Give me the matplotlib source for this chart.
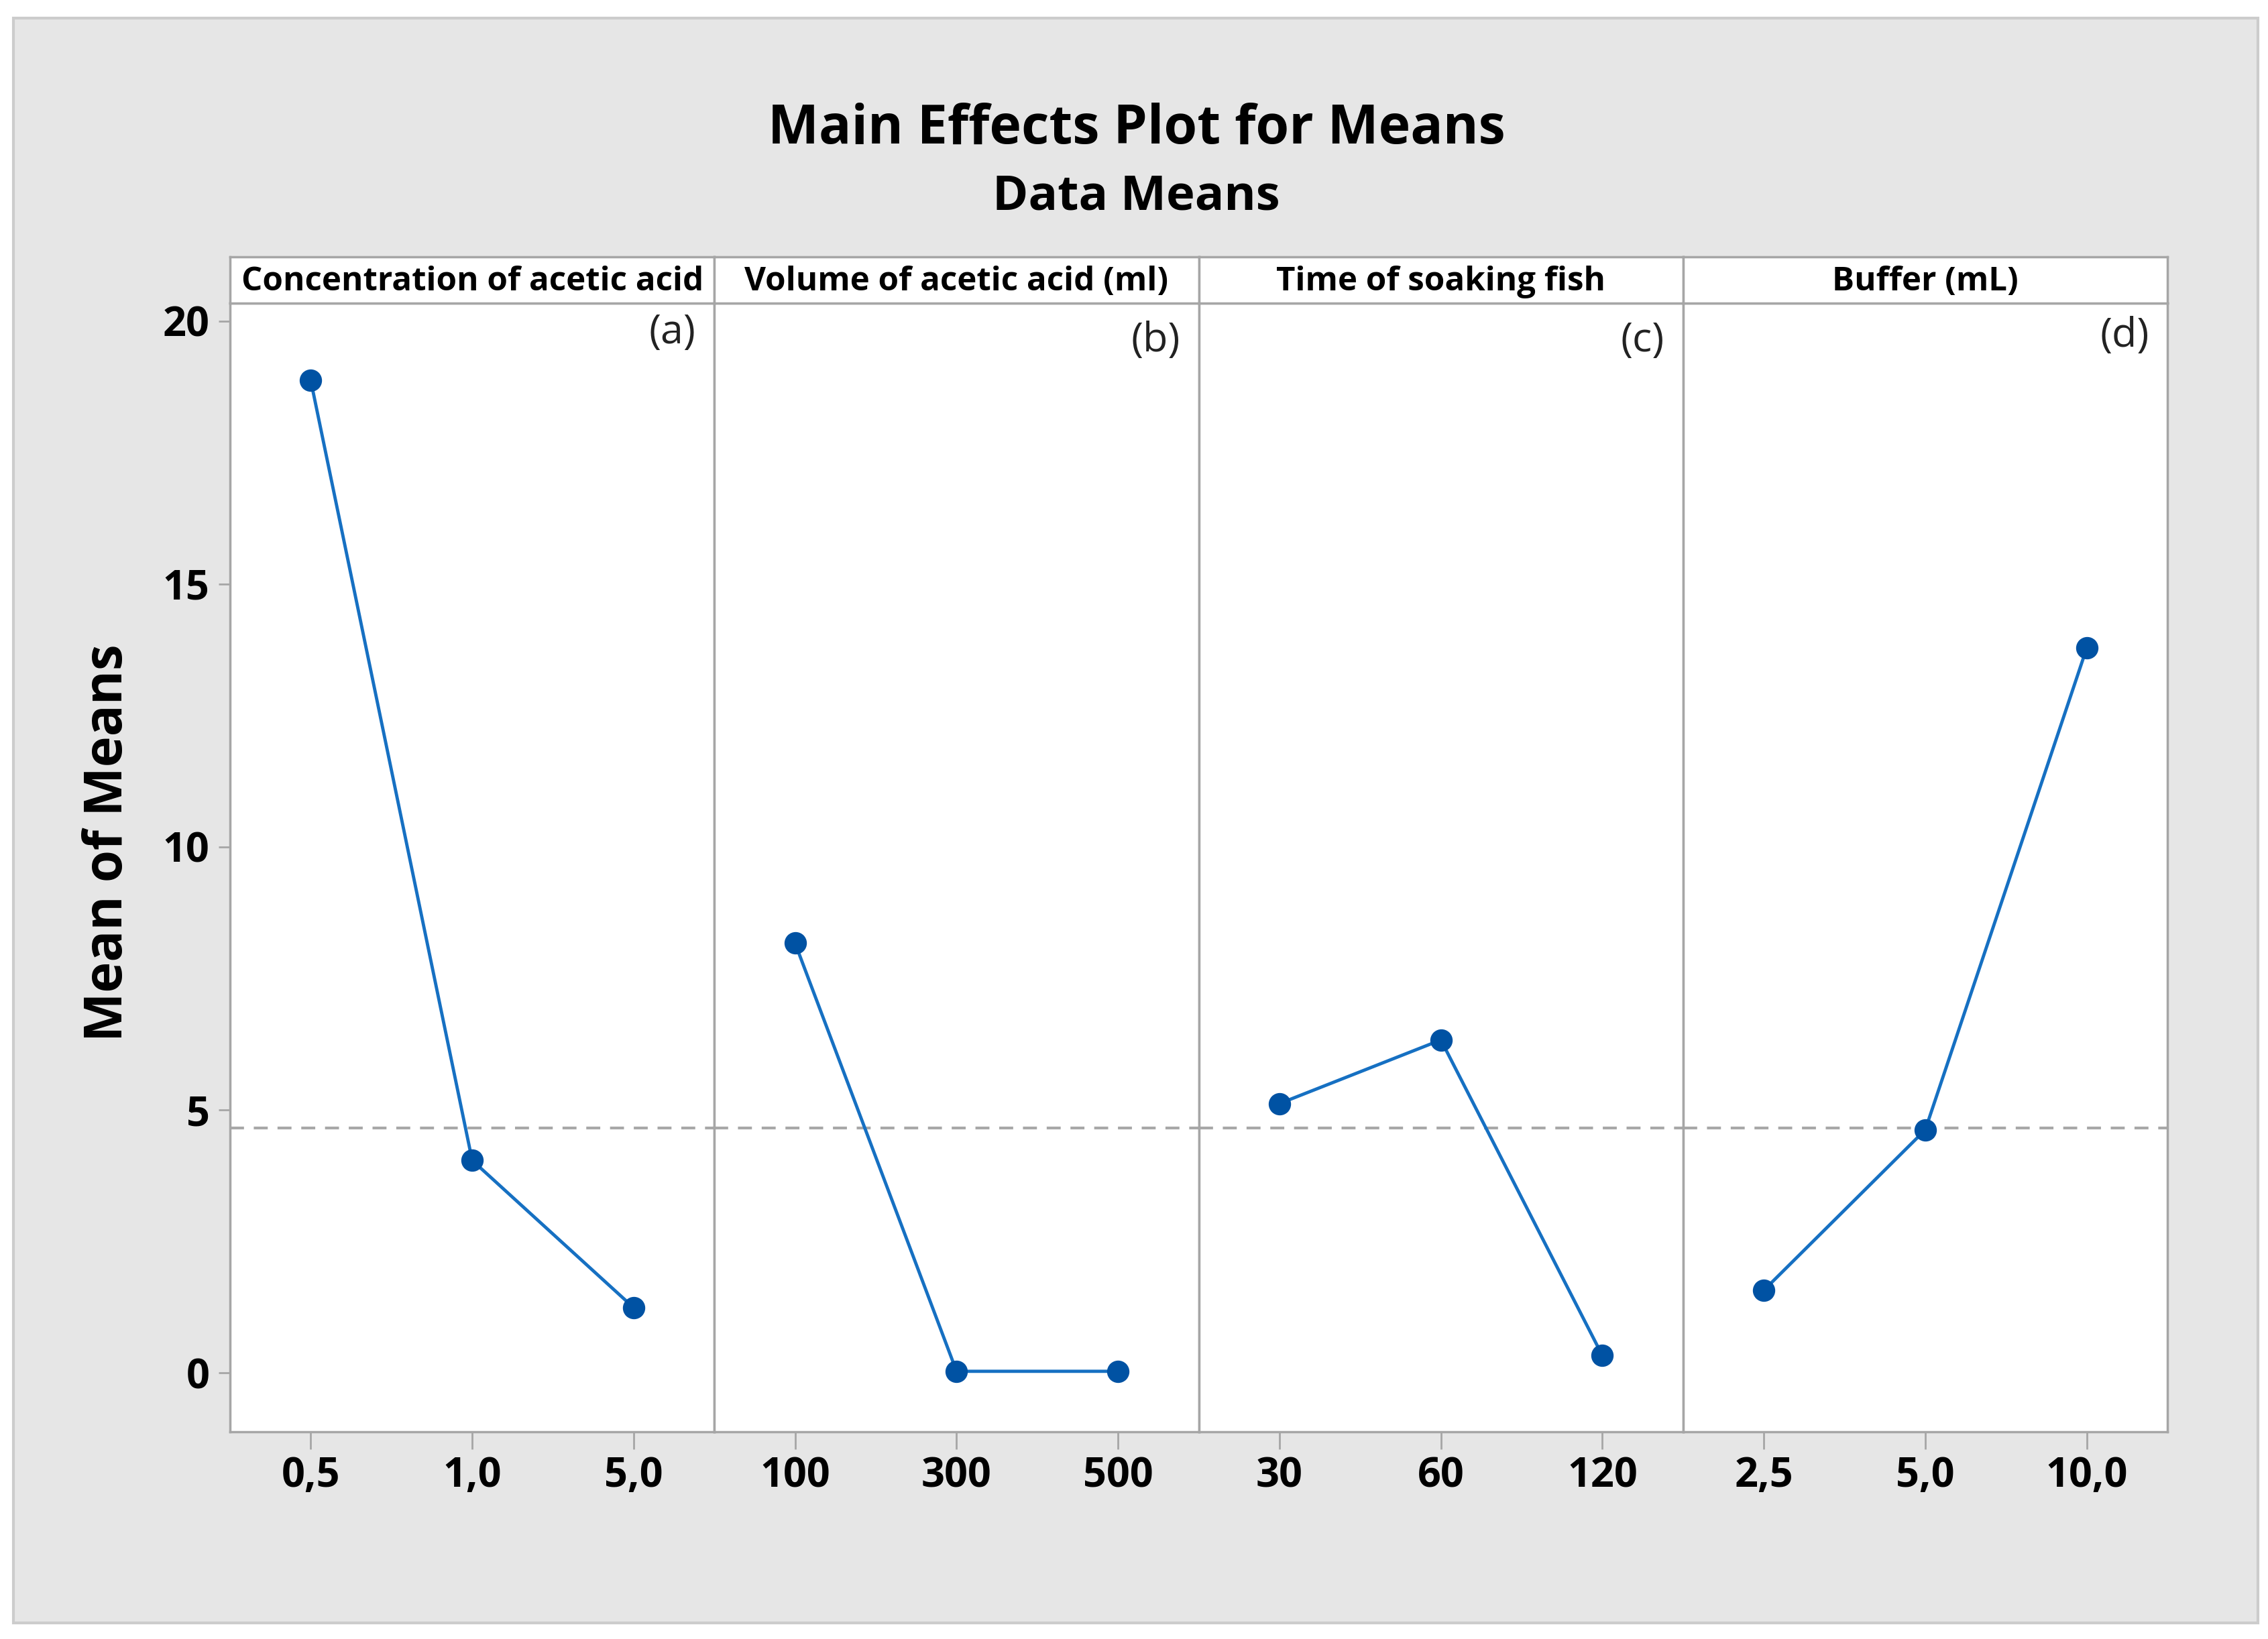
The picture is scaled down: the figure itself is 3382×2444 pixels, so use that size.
import matplotlib.pyplot as plt
from matplotlib.patches import Rectangle

# -------- data --------
FACTORS = ["Concentration of acetic acid", "Volume of acetic acid (ml)",
           "Time of soaking fish", "Buffer (mL)"]
PANEL_TAGS = ["(a)", "(b)", "(c)", "(d)"]
LEVELS_A = ["0,5", "1,0", "5,0"]
LEVELS_B = ["100", "300", "500"]
LEVELS_C = ["30", "60", "120"]
LEVELS_D = ["2,5", "5,0", "10,0"]
MEANS_A = [18.87, 4.04, 1.24]
MEANS_B = [8.17, 0.03, 0.03]
MEANS_C = [5.12, 6.33, 0.33]
MEANS_D = [1.57, 4.62, 13.78]
GRAND_MEAN = 4.65
Y_TICKS = [0, 5, 10, 15, 20]
# ----------------------

LEVELS = [LEVELS_A, LEVELS_B, LEVELS_C, LEVELS_D]
MEANS = [MEANS_A, MEANS_B, MEANS_C, MEANS_D]

plt.rcParams['font.family'] = ['Open Sans', 'DejaVu Sans']

W, H = 3382, 2444
fig = plt.figure(figsize=(W / 100, H / 100), dpi=100)
fig.patch.set_facecolor('white')

# gray background panel
fig.patches.append(Rectangle((20 / W, 1 - 2420 / H), (3367 - 20) / W, (2420 - 27) / H,
                             transform=fig.transFigure, facecolor='#E6E6E6',
                             edgecolor='#CCCCCC', linewidth=3, zorder=-5))

left, right = 343 / W, 3232 / W
bottom, top = 1 - 2135 / H, 1 - 452 / H
strip_h = (452 - 383) / H
pw = (right - left) / 4
frame_col = '#A6A6A6'
mark_col = '#0052A3'
line_col = '#1670C2'
tag_y = [0.974, 0.967, 0.967, 0.971]

for i in range(4):
    ax = fig.add_axes([left + i * pw, bottom, pw, top - bottom])
    ax.set_facecolor('white')
    x = [1, 2, 3]
    ax.axhline(GRAND_MEAN, color='#A8A8A8', lw=3, dashes=(5, 3.5), zorder=1)
    ax.plot(x, MEANS[i], '-', color=line_col, lw=3.5, zorder=2)
    ax.plot(x, MEANS[i], 'o', color=mark_col, markersize=23, zorder=3)
    ax.set_xlim(0.5, 3.5)
    ax.set_ylim(-1.12, 20.34)
    ax.set_xticks(x)
    ax.set_xticklabels(LEVELS[i], fontsize=44, fontweight='bold')
    ax.tick_params(axis='x', length=19, width=2, color=frame_col, pad=7)
    if i == 0:
        ax.set_yticks(Y_TICKS)
        ax.set_yticklabels([str(v) for v in Y_TICKS], fontsize=44, fontweight='bold')
        ax.tick_params(axis='y', length=12, width=2, color=frame_col, pad=10)
    else:
        ax.set_yticks([])
    for s in ax.spines.values():
        s.set_color(frame_col)
        s.set_linewidth(2.5)
    ax.text(0.962, tag_y[i], PANEL_TAGS[i], transform=ax.transAxes, ha='right', va='center',
            fontsize=44, color='#222222')

    sax = fig.add_axes([left + i * pw, top, pw, strip_h])
    sax.set_facecolor('white')
    sax.set_xticks([])
    sax.set_yticks([])
    for s in sax.spines.values():
        s.set_color(frame_col)
        s.set_linewidth(2.5)
    sax.text(0.5, 0.45, FACTORS[i], transform=sax.transAxes, ha='center', va='center',
             fontsize=35.5, fontweight='bold')

fig.text(0.501, 0.921, "Main Effects Plot for Means", ha='center', va='center',
         fontsize=58, fontweight='bold')
fig.text(0.501, 0.880, "Data Means", ha='center', va='center',
         fontsize=52, fontweight='bold')
fig.text(162 / W, 0.486, "Mean of Means", ha='center', va='center', rotation=90,
         fontsize=56, fontweight='bold')

fig.savefig("out.png", dpi=100)
